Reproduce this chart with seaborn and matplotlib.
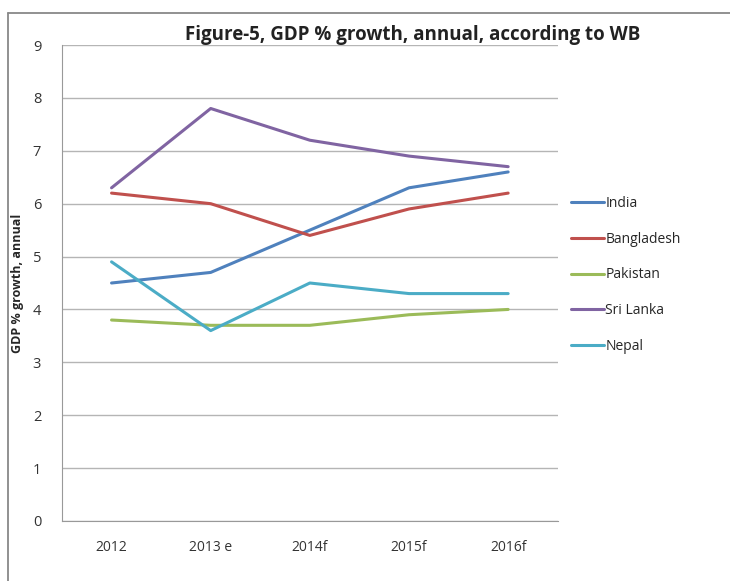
import pandas as pd
import numpy as np
import seaborn as sns
import matplotlib.pyplot as plt
from matplotlib.lines import Line2D

years = ["2012", "2013 e", "2014f", "2015f", "2016f"]
india = [4.5, 4.7, 5.5, 6.3, 6.6]
bangladesh = [6.2, 6.0, 5.4, 5.9, 6.2]
pakistan = [3.8, 3.7, 3.7, 3.9, 4.0]
sri_lanka = [6.3, 7.8, 7.2, 6.9, 6.7]
nepal = [4.9, 3.6, 4.5, 4.3, 4.3]

countries = ["India", "Bangladesh", "Pakistan", "Sri Lanka", "Nepal"]
colors = ["#4F81BD", "#C0504D", "#9BBB59", "#8064A2", "#4BACC6"]

df = pd.DataFrame({"India": india, "Bangladesh": bangladesh, "Pakistan": pakistan,
                   "Sri Lanka": sri_lanka, "Nepal": nepal}, index=years)
long = df.reset_index().melt(id_vars="index", var_name="country", value_name="gdp")
long = long.rename(columns={"index": "year"})

sns.set_style("white")
plt.rcParams['font.family'] = ['Open Sans', 'DejaVu Sans']

fig = plt.figure(figsize=(7.3, 5.81), dpi=100)
ax = fig.add_axes([0.0849, 0.1033, 0.764 - 0.0849, 0.9225 - 0.1033])

sns.lineplot(data=long, x="year", y="gdp", hue="country", hue_order=countries,
             palette=colors, linewidth=2.2, ax=ax, sort=False)

ax.set_xlim(-0.5, 4.5)
ax.set_ylim(0, 9)
ax.set_yticks(range(0, 10))
ax.yaxis.grid(True, color="#b5b5b5", linewidth=1)
ax.set_axisbelow(True)
ax.set_xticks(range(5))
ax.set_xticklabels(years)
ax.set_xticks(np.arange(-0.5, 5, 1), minor=True)
ax.tick_params(axis="x", which="major", length=0, pad=14, labelsize=10, colors="#333333")
ax.tick_params(axis="x", which="minor", length=5, color="#999999", direction="out")
ax.tick_params(axis="y", length=5, color="#999999", direction="out", pad=10, labelsize=10.5, colors="#333333")

for s in ["top", "right"]:
    ax.spines[s].set_visible(False)
ax.spines["left"].set_color("#999999")
ax.spines["bottom"].set_color("#999999")

ax.set_xlabel("")
ax.set_ylabel("GDP % growth, annual", fontsize=9, fontweight="bold", labelpad=6)

ax.legend(loc="upper left", bbox_to_anchor=(1.015, 0.695), frameon=False,
          fontsize=10, handlelength=2.4, handletextpad=0.1, labelspacing=1.5,
          borderaxespad=0)

fig.text(0.566, 0.94, "Figure-5, GDP % growth, annual, according to WB",
         ha="center", va="center", fontsize=13.5, fontweight="bold", color="#222222")

# outer chart frame: only the left and top edges show in the source
fig.add_artist(Line2D([0.011, 0.011], [0.0, 0.977], transform=fig.transFigure,
                      color="#888888", linewidth=1.3))
fig.add_artist(Line2D([0.011, 1.0], [0.977, 0.977], transform=fig.transFigure,
                      color="#888888", linewidth=1.3))

plt.savefig("out.png", dpi=100)
plt.close()
